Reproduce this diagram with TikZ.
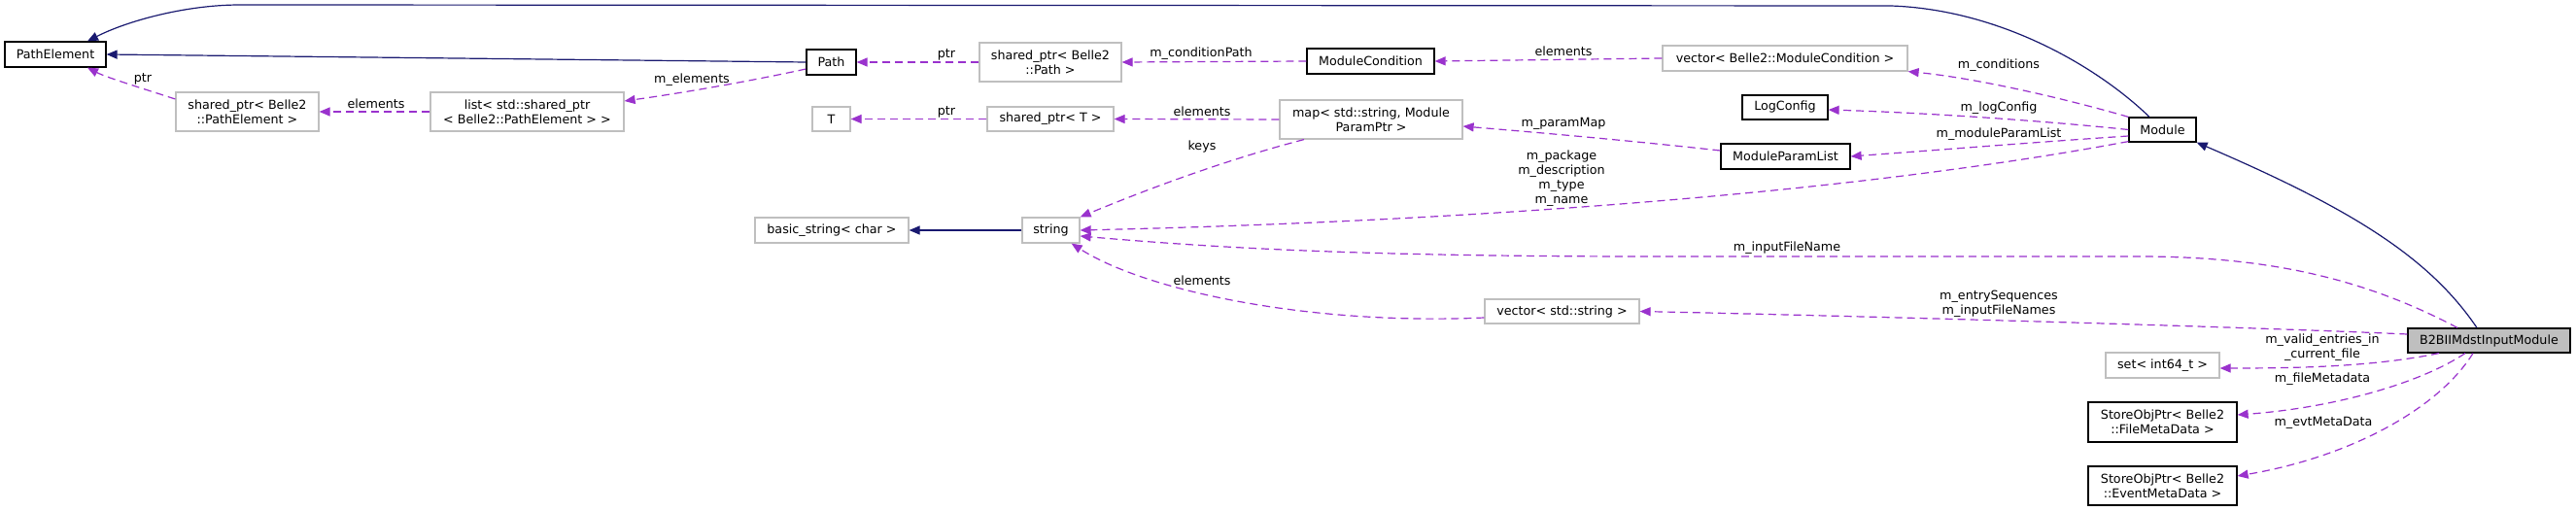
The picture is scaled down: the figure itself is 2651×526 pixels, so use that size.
\documentclass[tikz,border=0pt]{standalone}
\usepackage{fontspec}
\setmainfont{DejaVu Sans}
\usetikzlibrary{arrows.meta}
\definecolor{inh}{HTML}{191970}
\definecolor{usea}{HTML}{9A32CD}
\definecolor{gbord}{HTML}{BFBFBF}
\begin{document}
\begin{tikzpicture}[x=1pt,y=-1pt,
  every node/.style={font=\fontsize{12.7}{15}\selectfont, inner sep=0pt, text=black},
  dnode/.style={draw=black, line width=1.2pt, fill=white, align=center},
  unode/.style={draw=gbord, line width=1.2pt, fill=white, align=center},
  cnode/.style={draw=black, line width=1.2pt, fill=gbord, align=center},
  lbl/.style={align=center},
  inhline/.style={draw=inh, line width=1.2pt, -{Triangle[length=11pt,width=9pt]}},
  useline/.style={draw=usea, line width=1.2pt, dash pattern=on 8pt off 5pt, -{Triangle[length=11pt,width=9pt]}}
]
\useasboundingbox[fill=white] (0,0) rectangle (2651,526);

% nodes
\node[dnode, minimum width=104pt, minimum height=26pt] (PE) at (57,56) {PathElement};
\node[unode, minimum width=147pt, minimum height=40pt] (spPE) at (254.5,115) {shared\_ptr< Belle2\\::PathElement >};
\node[unode, minimum width=199pt, minimum height=40pt] (list) at (542.5,115) {list< std::shared\_ptr\\< Belle2::PathElement > >};
\node[dnode, minimum width=51pt, minimum height=26pt] (Path) at (855.5,64) {Path};
\node[unode, minimum width=146pt, minimum height=40pt] (spPath) at (1081,64) {shared\_ptr< Belle2\\::Path >};
\node[dnode, minimum width=131pt, minimum height=26pt] (MC) at (1410.5,63) {ModuleCondition};
\node[unode, minimum width=252pt, minimum height=26pt] (vecMC) at (1837,60) {vector< Belle2::ModuleCondition >};
\node[unode, minimum width=39pt, minimum height=25pt] (T) at (855.5,122.5) {T};
\node[unode, minimum width=130pt, minimum height=25pt] (spT) at (1081,122.5) {shared\_ptr< T >};
\node[unode, minimum width=188pt, minimum height=40pt] (map) at (1411,123) {map< std::string, Module\\ParamPtr >};
\node[dnode, minimum width=88pt, minimum height=25pt] (LC) at (1837,110.5) {LogConfig};
\node[dnode, minimum width=133pt, minimum height=26pt] (MPL) at (1837.5,161) {ModuleParamList};
\node[dnode, minimum width=69pt, minimum height=25pt] (Module) at (2225.5,133.5) {Module};
\node[unode, minimum width=158pt, minimum height=26pt] (bstr) at (856,237) {basic\_string< char >};
\node[unode, minimum width=59pt, minimum height=26pt] (str) at (1081.5,237) {string};
\node[unode, minimum width=159pt, minimum height=25pt] (vecStr) at (1607.5,320.5) {vector< std::string >};
\node[unode, minimum width=117pt, minimum height=26pt] (set) at (2225.5,376) {set< int64\_t >};
\node[dnode, minimum width=153pt, minimum height=41pt] (FMD) at (2225.5,434.5) {StoreObjPtr< Belle2\\::FileMetaData >};
\node[dnode, minimum width=153pt, minimum height=40pt] (EMD) at (2225.5,500) {StoreObjPtr< Belle2\\::EventMetaData >};
\node[cnode, minimum width=167pt, minimum height=25pt] (B2) at (2561.5,350.5) {B2BIIMdstInputModule};

% inheritance
\draw[inhline] ([xshift=-13.5pt]Module.north) .. controls (2160,70) and (2060,10) .. (1946,6) -- (247,5) .. controls (190,5) and (130,22) .. ([xshift=33pt]PE.north);
\draw[inhline] (Path.west) -- (PE.east);
\draw[inhline] (str.west) -- (bstr.east);
\draw[inhline] ([xshift=-12.5pt]B2.north) .. controls (2500,265) and (2420,215) .. (Module.south east);

% usage
\draw[useline] ([yshift=13pt]spPE.west) .. controls (150,92) and (110,80) .. ([xshift=33pt]PE.south);
\draw[useline] (list.west) -- (spPE.east);
\draw[useline] ([yshift=-7pt]Path.west) .. controls (770,84) and (700,96) .. ([yshift=11pt]list.east);
\draw[useline] (spPath.west) -- (Path.east);
\draw[useline] (MC.west) -- (spPath.east);
\draw[useline] (vecMC.west) -- (MC.east);
\draw[useline] (Module.north west) .. controls (2120,100) and (2030,80) .. (vecMC.south east);
\draw[useline] (Module.west) .. controls (2100,124) and (1980,116) .. ([yshift=-2.5pt]LC.east);
\draw[useline] ([yshift=-6.5pt]Module.west) .. controls (2100,146) and (2000,154) .. (MPL.east);
\draw[useline] ([yshift=1pt]Module.south west) .. controls (1900,200) and (1500,228) .. (str.east);
\draw[useline] (map.west) -- (spT.east);
\draw[useline] (spT.west) -- (T.east);
\draw[useline] ([xshift=-69pt]map.south) .. controls (1260,165) and (1180,195) .. (str.north east);
\draw[useline] ([yshift=6pt]MPL.west) .. controls (1680,145) and (1590,137) .. ([yshift=-7pt]map.east);
\draw[useline] ([xshift=-32.5pt]B2.north) .. controls (2430,285) and (2330,264) .. (2200,264) -- (1700,264) .. controls (1400,264) and (1250,255) .. ([yshift=-6pt]str.east);
\draw[useline] ([yshift=6.5pt]B2.west) .. controls (2300,336) and (1900,325) .. (vecStr.east);
\draw[useline] ([yshift=-6.5pt]vecStr.west) .. controls (1350,335) and (1180,300) .. ([xshift=-9pt]str.south east);
\draw[useline] ([xshift=-51.5pt]B2.south) .. controls (2440,378) and (2360,379) .. ([yshift=-3pt]set.east);
\draw[useline] ([xshift=-24.5pt]B2.south) .. controls (2490,395) and (2400,420) .. ([yshift=7.5pt]FMD.east);
\draw[useline] ([xshift=-16.5pt]B2.south) .. controls (2510,420) and (2420,470) .. ([yshift=10pt]EMD.east);

% labels
\node[lbl] (l1) at (147,81) {ptr};
\node[lbl] (l2) at (387,107) {elements};
\node[lbl] (l3) at (712,82) {m\_elements};
\node[lbl] (l4) at (974,56) {ptr};
\node[lbl] (l5) at (1236,55) {m\_conditionPath};
\node[lbl] (l6) at (1609,53) {elements};
\node[lbl] (l7) at (2057,67) {m\_conditions};
\node[lbl] (l8) at (2057,111) {m\_logConfig};
\node[lbl] (l9) at (2057,138) {m\_moduleParamList};
\node[lbl] (l10) at (1607,184) {m\_package\\m\_description\\m\_type\\m\_name};
\node[lbl] (l11) at (1237,115) {elements};
\node[lbl] (l12) at (974,115) {ptr};
\node[lbl] (l13) at (1237,151) {keys};
\node[lbl] (l14) at (1609,127) {m\_paramMap};
\node[lbl] (l15) at (1839,255) {m\_inputFileName};
\node[lbl] (l16) at (2057,313) {m\_entrySequences\\m\_inputFileNames};
\node[lbl] (l17) at (1237,289) {elements};
\node[lbl] (l18) at (2390,358) {m\_valid\_entries\_in\\\_current\_file};
\node[lbl] (l19) at (2390,390) {m\_fileMetadata};
\node[lbl] (l20) at (2391,435) {m\_evtMetaData};
\end{tikzpicture}
\end{document}
